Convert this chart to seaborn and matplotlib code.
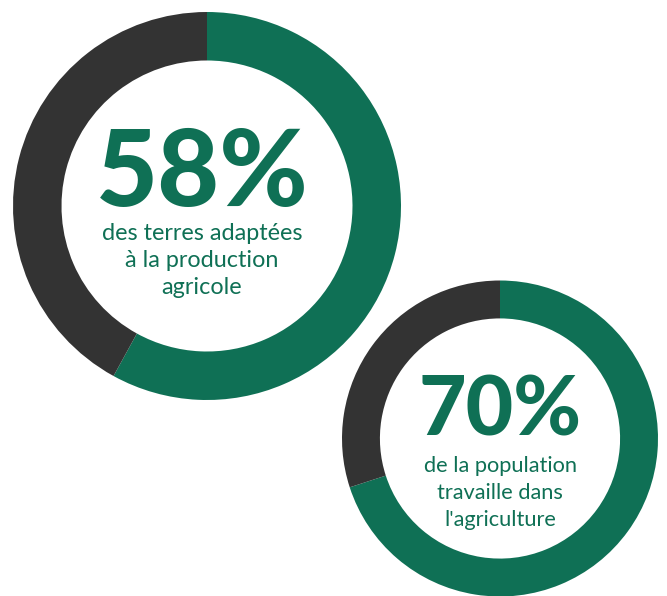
import matplotlib
matplotlib.use("Agg")
import matplotlib.pyplot as plt
import seaborn as sns

# Data
percent_values = [58, 70]
percent_labels = ["58%", "70%"]
subtitles = [
    "des terres adaptées\nà la production\nagricole",
    "de la population\ntravaille dans\nl'agriculture",
]

GREEN = "#0f7055"
DARK = "#333333"

sns.set_theme(style="white")
plt.rcParams["font.family"] = ["Lato", "DejaVu Sans"]

W, H = 667, 596
fig = plt.figure(figsize=(W / 100, H / 100), dpi=100)
ax = fig.add_axes([0, 0, 1, 1])

# layout (pixel coords, y downwards converted)
centers = [(207, 206), (500, 438.5)]
text_x = [202, 500]
radii = [194, 158]
ring_frac = [0.25, 0.24]
pct_baseline = [206, 435]
pct_size = [77, 59]
sub_baseline = [240, 472]
sub_size = [16.8, 15.7]
sub_spacing = [27, 27]

for v, lab, sub, (cx, cy), tx, r, rf, pb, ps, sb, ss, sp in zip(
        percent_values, percent_labels, subtitles, centers, text_x, radii, ring_frac,
        pct_baseline, pct_size, sub_baseline, sub_size, sub_spacing):
    ax.pie([v, 100 - v], colors=[GREEN, DARK], startangle=90, counterclock=False,
           center=(cx, H - cy), radius=r,
           wedgeprops=dict(width=r * rf, edgecolor="none", linewidth=0))
    ax.text(tx, H - pb, lab, ha="center", va="baseline", fontsize=ps,
            fontweight=900, color=GREEN)
    for i, line in enumerate(sub.split("\n")):
        ax.text(tx, H - (sb + i * sp), line, ha="center", va="baseline",
                fontsize=ss, color=GREEN)

ax.set_xlim(0, W)
ax.set_ylim(0, H)
ax.set_aspect("equal")
ax.axis("off")
fig.savefig("out.png", dpi=100)
